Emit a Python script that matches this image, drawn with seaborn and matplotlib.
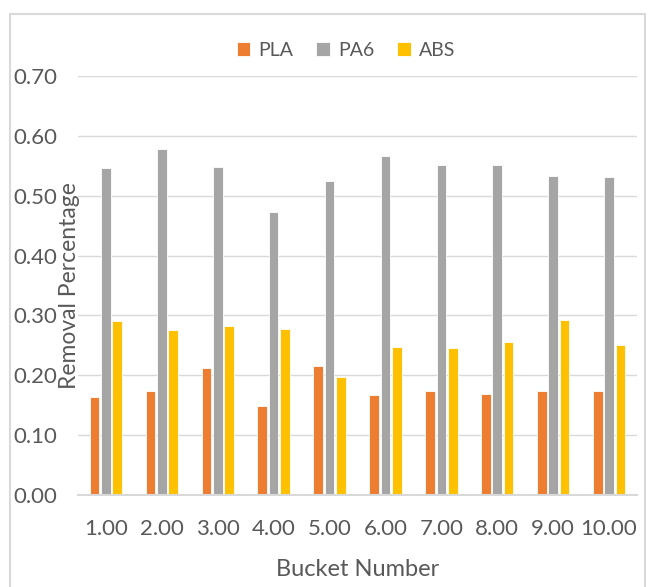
import matplotlib
matplotlib.use("Agg")
import matplotlib.pyplot as plt
from matplotlib.patches import Rectangle
import seaborn as sns
import pandas as pd

# Bucket categories and removal fractions per material
buckets = ["1.00", "2.00", "3.00", "4.00", "5.00", "6.00", "7.00", "8.00", "9.00", "10.00"]
pla = [0.163, 0.173, 0.212, 0.148, 0.216, 0.167, 0.173, 0.169, 0.173, 0.173]
pa6 = [0.546, 0.578, 0.548, 0.473, 0.524, 0.567, 0.552, 0.552, 0.533, 0.531]
abs_ = [0.291, 0.276, 0.283, 0.278, 0.197, 0.248, 0.246, 0.255, 0.293, 0.250]
materials = ["PLA", "PA6", "ABS"]
colors = ["#ED7D31", "#A5A5A5", "#FFC000"]
yticks = [0.0, 0.1, 0.2, 0.3, 0.4, 0.5, 0.6, 0.7]

df = pd.DataFrame({
    "Bucket": buckets * 3,
    "Material": ["PLA"] * len(buckets) + ["PA6"] * len(buckets) + ["ABS"] * len(buckets),
    "Removal": pla + pa6 + abs_,
})

sns.set_theme(style="white")
plt.rcParams["font.family"] = ["Lato", "DejaVu Sans"]
text_col = "#595959"
grid_col = "#D9D9D9"

fig = plt.figure(figsize=(6.51, 5.87), dpi=100)
ax = fig.add_axes([78 / 651, 1 - 495 / 587, (637 - 78) / 651, (495 - 76) / 587])

sns.barplot(data=df, x="Bucket", y="Removal", hue="Material", order=buckets,
            hue_order=materials, palette=colors, width=0.61, gap=0.15,
            edgecolor="white", linewidth=0.6, saturation=1, errorbar=None, ax=ax,
            legend=True)

ax.set_ylim(0, 0.70)
ax.set_xlim(-0.5, len(buckets) - 0.5)
ax.set_yticks(yticks)
ax.set_yticklabels([f"{v:.2f}" for v in yticks])
ax.yaxis.grid(True, color=grid_col, linewidth=1.0)
ax.set_axisbelow(True)
for s in ["top", "right", "left"]:
    ax.spines[s].set_visible(False)
ax.spines["bottom"].set_color(grid_col)
ax.spines["bottom"].set_linewidth(1.5)
ax.tick_params(axis="both", length=0, labelsize=16, colors=text_col)
ax.tick_params(axis="y", pad=15)
ax.tick_params(axis="x", pad=17)

ax.set_xlabel("Bucket Number", fontsize=17, color=text_col, labelpad=15)
ax.set_ylabel("Removal Percentage", fontsize=16.5, color=text_col)
ax.yaxis.set_label_coords(0.004, 0.5)

handles, labels = ax.get_legend_handles_labels()
ax.get_legend().remove()
fig.legend(handles, labels, loc="center", bbox_to_anchor=(346 / 651, 1 - 50 / 587),
           ncol=3, frameon=False, fontsize=14, labelcolor=text_col,
           handlelength=0.7, handleheight=0.7, handletextpad=0.4, columnspacing=1.2)

# Outer chart border
fig.patches.append(Rectangle((10 / 651, -0.02), (645 - 10) / 651, 1 - 14 / 587 + 0.02,
                             transform=fig.transFigure, fill=False,
                             edgecolor=grid_col, linewidth=1.5))

fig.savefig("out.png", dpi=100)
